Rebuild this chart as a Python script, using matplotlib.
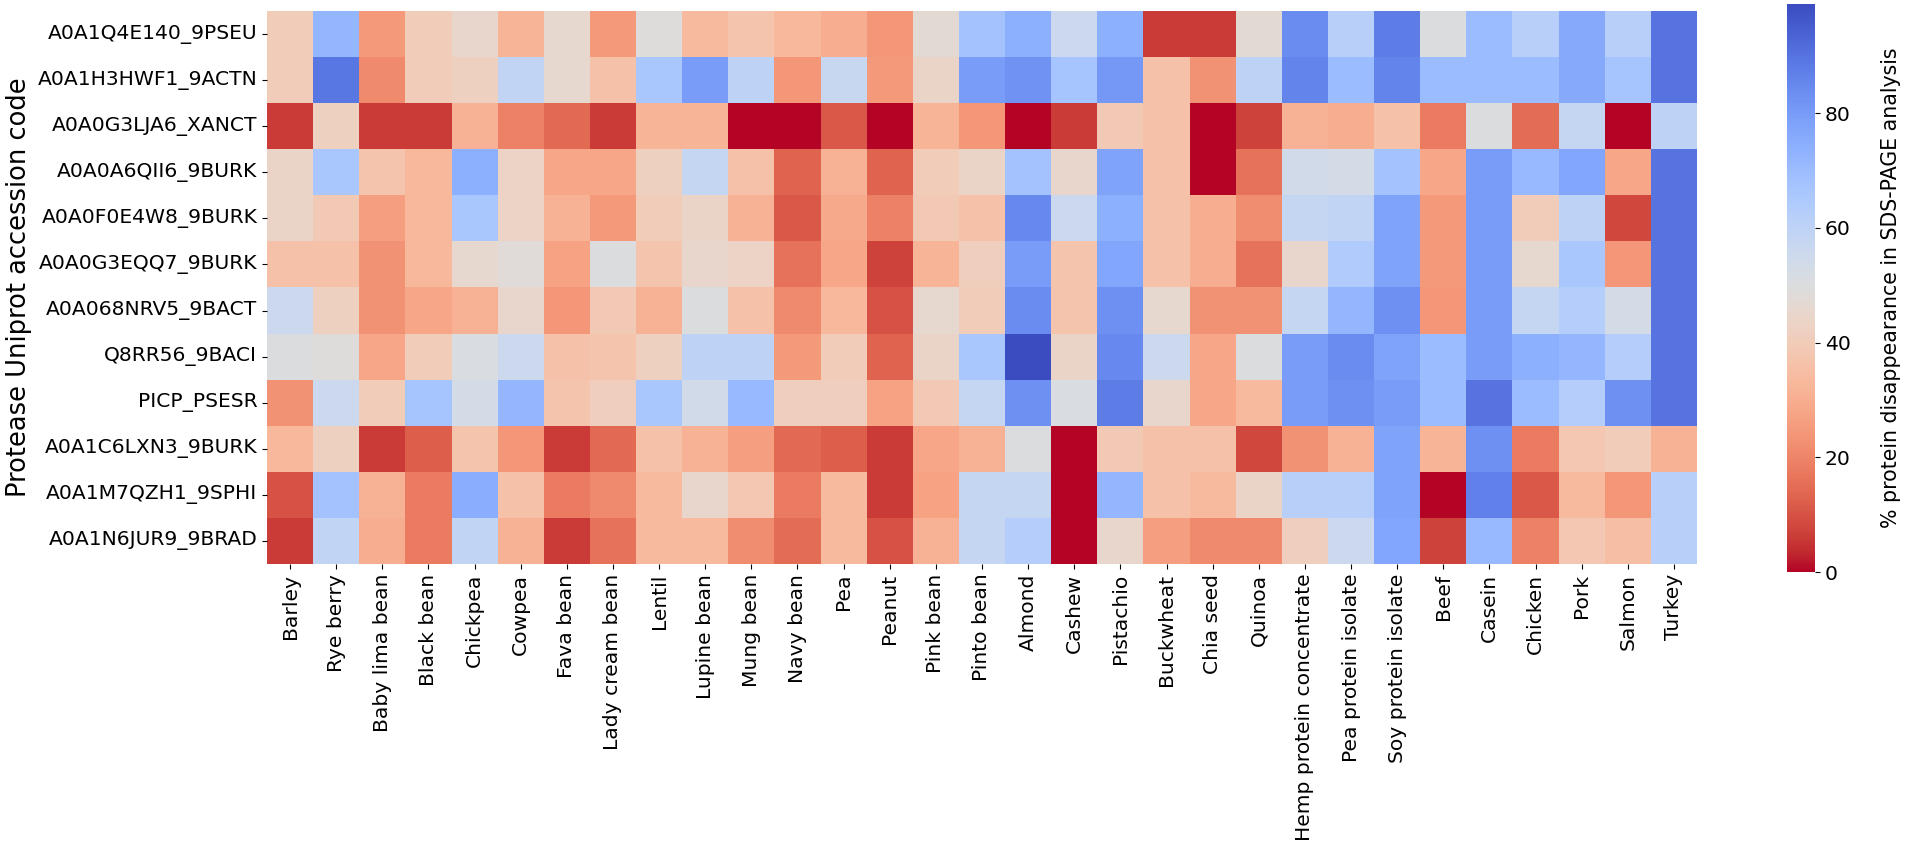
import numpy as np
import pandas as pd
import matplotlib
matplotlib.use("Agg")
import matplotlib.pyplot as plt
import seaborn as sns

proteases = ["A0A1Q4E140_9PSEU", "A0A1H3HWF1_9ACTN", "A0A0G3LJA6_XANCT", "A0A0A6QII6_9BURK",
             "A0A0F0E4W8_9BURK", "A0A0G3EQQ7_9BURK", "A0A068NRV5_9BACT", "Q8RR56_9BACI",
             "PICP_PSESR", "A0A1C6LXN3_9BURK", "A0A1M7QZH1_9SPHI", "A0A1N6JUR9_9BRAD"]

foods = ["Barley", "Rye berry", "Baby lima bean", "Black bean", "Chickpea", "Cowpea", "Fava bean",
         "Lady cream bean", "Lentil", "Lupine bean", "Mung bean", "Navy bean", "Pea", "Peanut",
         "Pink bean", "Pinto bean", "Almond", "Cashew", "Pistachio", "Buckwheat", "Chia seed",
         "Quinoa", "Hemp protein concentrate", "Pea protein isolate", "Soy protein isolate",
         "Beef", "Casein", "Chicken", "Pork", "Salmon", "Turkey"]

# % protein disappearance, one list per protease
r_9pseu = [40, 72, 25, 40, 45, 32, 46, 25, 49, 34, 37, 33, 30, 24, 47, 68, 74, 56, 74, 6, 6, 47, 84, 62, 88, 50, 70, 62, 76, 62, 90]
r_9actn = [40, 89, 21, 40, 42, 59, 46, 36, 66, 80, 60, 24, 57, 25, 44, 80, 82, 67, 81, 36, 23, 60, 86, 70, 86, 70, 70, 70, 76, 67, 90]
r_xanct = [6, 42, 6, 6, 31, 19, 14, 6, 32, 32, 0, 0, 11, 0, 32, 24, 0, 6, 39, 36, 0, 7, 31, 30, 36, 18, 50, 15, 58, 0, 60]
r_qii6 = [44, 66, 37, 33, 74, 43, 28, 28, 42, 58, 36, 13, 31, 13, 40, 44, 68, 45, 78, 36, 0, 16, 54, 53, 68, 28, 80, 71, 77, 28, 90]
r_4w8 = [44, 39, 26, 33, 66, 43, 31, 25, 40, 44, 31, 11, 29, 19, 39, 36, 85, 56, 74, 36, 30, 22, 58, 59, 78, 25, 80, 40, 60, 8, 90]
r_eqq7 = [36, 36, 23, 33, 46, 48, 27, 50, 37, 45, 43, 16, 28, 7, 32, 41, 80, 37, 77, 36, 30, 16, 45, 64, 78, 25, 80, 46, 66, 24, 90]
r_nrv5 = [56, 42, 23, 28, 31, 45, 24, 39, 31, 50, 36, 21, 33, 10, 46, 40, 84, 37, 83, 46, 23, 23, 58, 72, 83, 24, 80, 58, 63, 53, 90]
r_9baci = [50, 49, 28, 40, 51, 56, 36, 37, 42, 60, 60, 25, 40, 13, 44, 66, 99, 44, 85, 56, 28, 50, 80, 84, 78, 70, 80, 74, 72, 63, 90]
r_picp = [23, 56, 40, 67, 53, 72, 37, 41, 66, 54, 71, 41, 41, 27, 39, 58, 83, 51, 88, 45, 28, 34, 80, 83, 80, 70, 90, 70, 63, 83, 90]
r_lxn3 = [33, 42, 6, 12, 37, 24, 6, 14, 36, 31, 26, 14, 12, 6, 28, 31, 50, 0, 39, 36, 36, 8, 23, 31, 78, 32, 83, 18, 38, 40, 31]
r_qzh1 = [10, 68, 31, 18, 75, 36, 18, 21, 34, 45, 38, 18, 34, 6, 27, 58, 58, 0, 72, 36, 34, 44, 62, 62, 78, 0, 87, 11, 34, 24, 62]
r_jur9 = [6, 59, 30, 18, 59, 31, 6, 16, 34, 34, 22, 15, 34, 10, 31, 58, 63, 0, 45, 26, 21, 21, 41, 56, 77, 7, 71, 19, 38, 35, 62]

df = pd.DataFrame([r_9pseu, r_9actn, r_xanct, r_qii6, r_4w8, r_eqq7, r_nrv5, r_9baci,
                   r_picp, r_lxn3, r_qzh1, r_jur9], index=proteases, columns=foods)

W, H = 1906, 847
fig = plt.figure(figsize=(W / 100, H / 100), dpi=100)
ax = fig.add_axes([267 / W, 1 - 564 / H, 1430 / W, 553 / H])
cax = fig.add_axes([1787 / W, 1 - 572 / H, 28 / W, 568 / H])

sns.heatmap(df, cmap="coolwarm_r", ax=ax, cbar_ax=cax)

ax.set_ylabel("Protease Uniprot accession code", fontsize=18.5)
ax.tick_params(axis="x", labelsize=14.6, rotation=90)
ax.tick_params(axis="y", labelsize=14.6, rotation=0)
cax.tick_params(labelsize=14.6)
cax.set_yticks([0, 20, 40, 60, 80])
cax.set_ylabel("% protein disappearance in SDS-PAGE analysis", fontsize=14.8, labelpad=22)

fig.savefig("out.png", dpi=100)
